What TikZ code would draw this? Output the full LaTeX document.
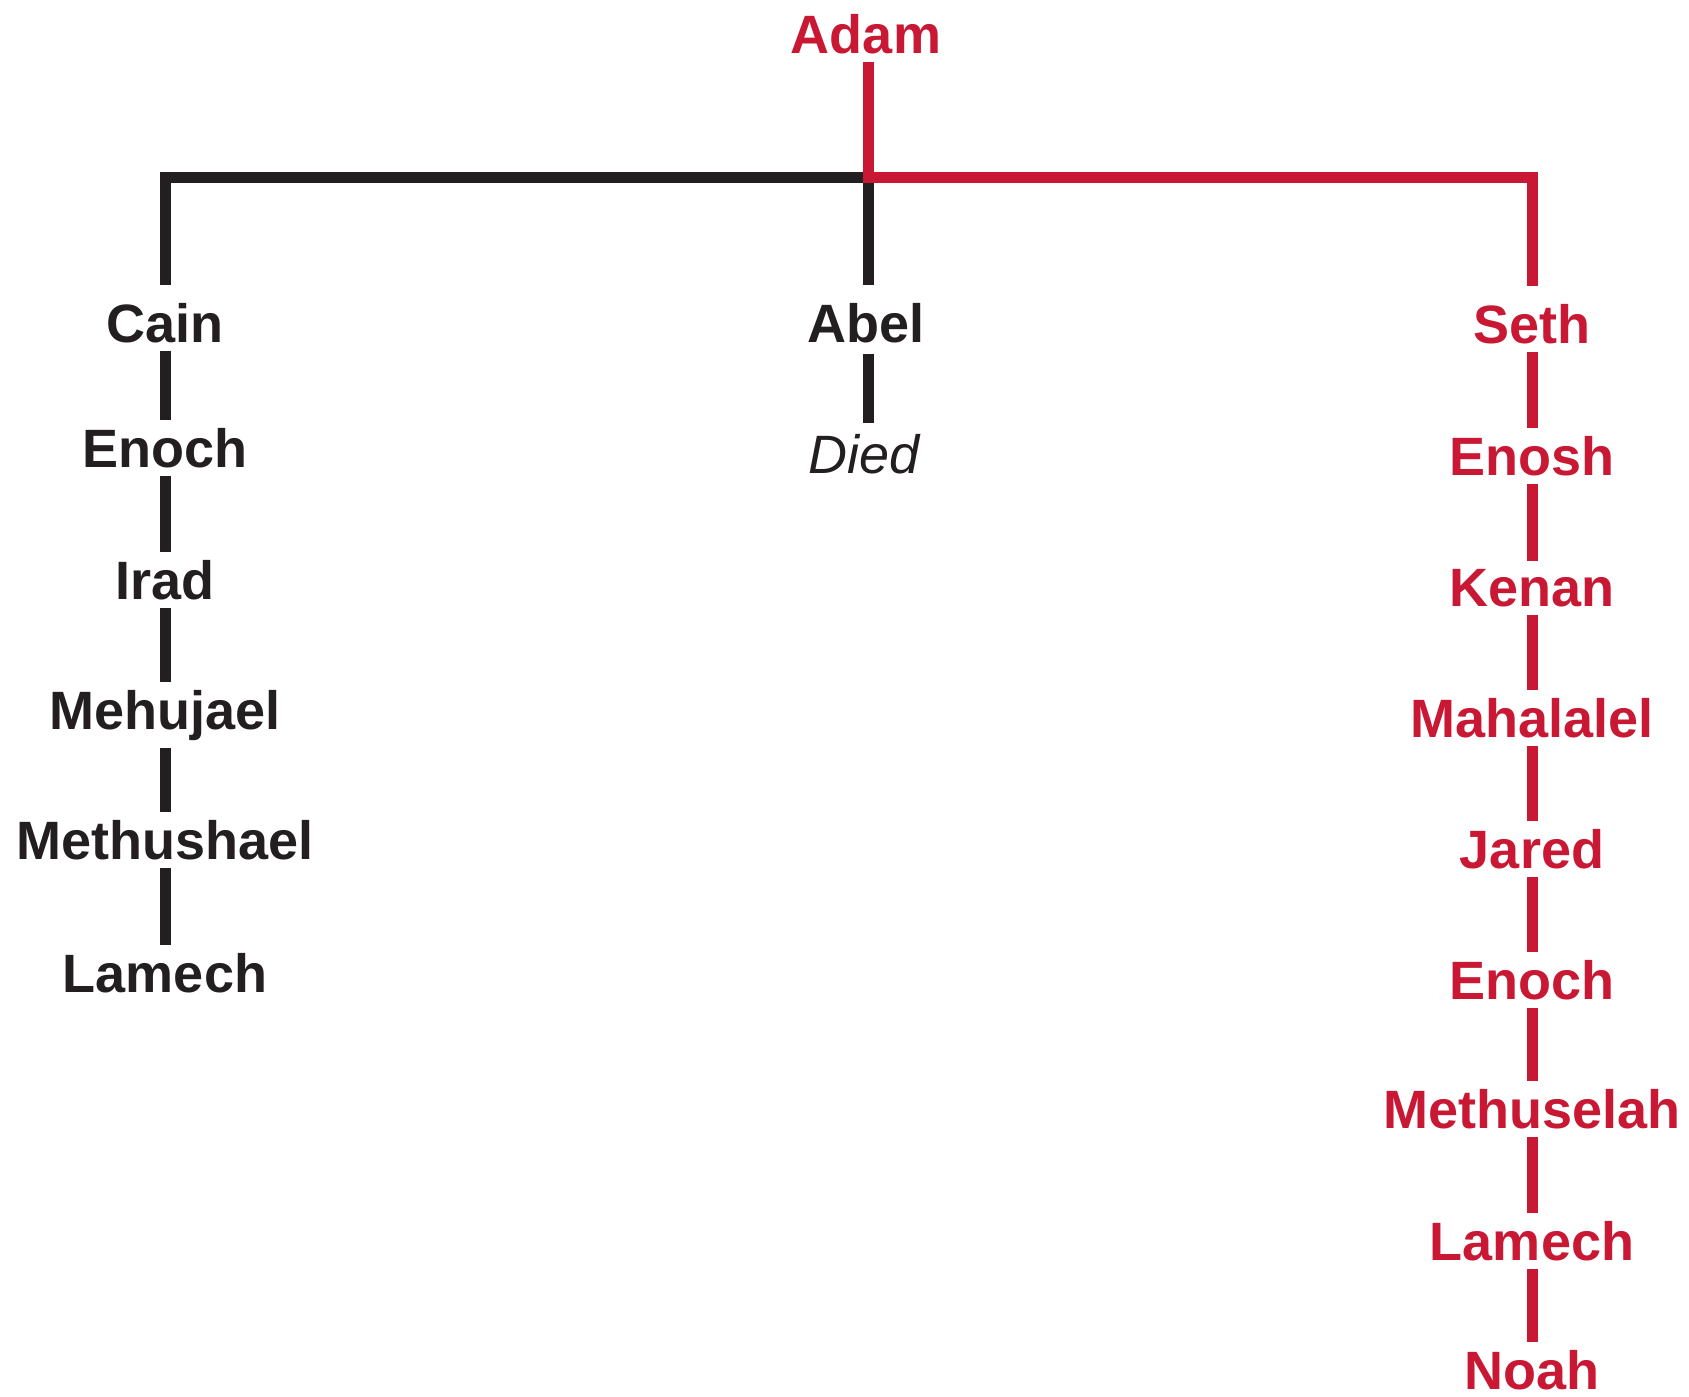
\documentclass[tikz,border=0pt]{standalone}
\usepackage{fontspec}
\setmainfont{Liberation Sans}
\definecolor{tred}{RGB}{200,24,52}
\definecolor{tblk}{RGB}{35,31,32}
\begin{document}
\begin{tikzpicture}[x=1pt,y=-1pt,
  person/.style={font=\fontsize{54}{60}\selectfont\bfseries, inner xsep=0pt, inner ysep=8pt, anchor=base},
  rn/.style={person, text=tred},
  bn/.style={person, text=tblk},
  rl/.style={draw=tred, line width=11pt, line join=miter},
  bl/.style={draw=tblk, line width=11pt, line join=miter},
]
\useasboundingbox (0,0) rectangle (1689,1397);
% nodes
\node[rn] (adam) at (866,53) {Adam};
\coordinate (bar) at (868,177);
\node[bn] (cain) at (165,342) {Cain};
\node[bn] (enochL) at (165,467) {Enoch};
\node[bn] (irad) at (165,599) {Irad};
\node[bn] (mehujael) at (165,729) {Mehujael};
\node[bn] (methushael) at (165,859) {Methushael};
\node[bn] (lamechL) at (165,992) {Lamech};
\node[bn] (abel) at (866,342) {Abel};
\node[person, font=\fontsize{54}{60}\selectfont\itshape, text=tblk] (died) at (864,473) {Died};
\node[rn] (seth) at (1532,343) {Seth};
\node[rn] (enosh) at (1532,475) {Enosh};
\node[rn] (kenan) at (1532,606) {Kenan};
\node[rn] (mahalalel) at (1532,737) {Mahalalel};
\node[rn] (jared) at (1532,868) {Jared};
\node[rn] (enochR) at (1532,999) {Enoch};
\node[rn] (methuselah) at (1532,1128) {Methuselah};
\node[rn] (lamechR) at (1532,1260) {Lamech};
\node[rn, inner ysep=6pt] (noah) at (1532,1389) {Noah};
% black connectors
\draw[bl, shorten >=10pt] (bar) -| (cain.north);
\draw[bl, shorten >=10pt] (bar) -- (bar |- abel.north);
\draw[bl, shorten <=3pt, shorten >=3pt] (bar |- abel.south) -- (bar |- died.north);
\draw[bl] (cain) -- (enochL);
\draw[bl] (enochL) -- (irad);
\draw[bl] (irad) -- (mehujael);
\draw[bl] (mehujael) -- (methushael);
\draw[bl] (methushael) -- (lamechL);
% red connectors
\draw[rl] (bar |- adam.south) -- ([yshift=-5.5pt]bar);
\draw[rl, shorten >=10pt] (bar) -| (seth.north);
\draw[rl] (seth) -- (enosh);
\draw[rl] (enosh) -- (kenan);
\draw[rl] (kenan) -- (mahalalel);
\draw[rl] (mahalalel) -- (jared);
\draw[rl] (jared) -- (enochR);
\draw[rl] (enochR) -- (methuselah);
\draw[rl] (methuselah) -- (lamechR);
\draw[rl, shorten >=2pt] (lamechR) -- (noah);
\end{tikzpicture}
\end{document}
